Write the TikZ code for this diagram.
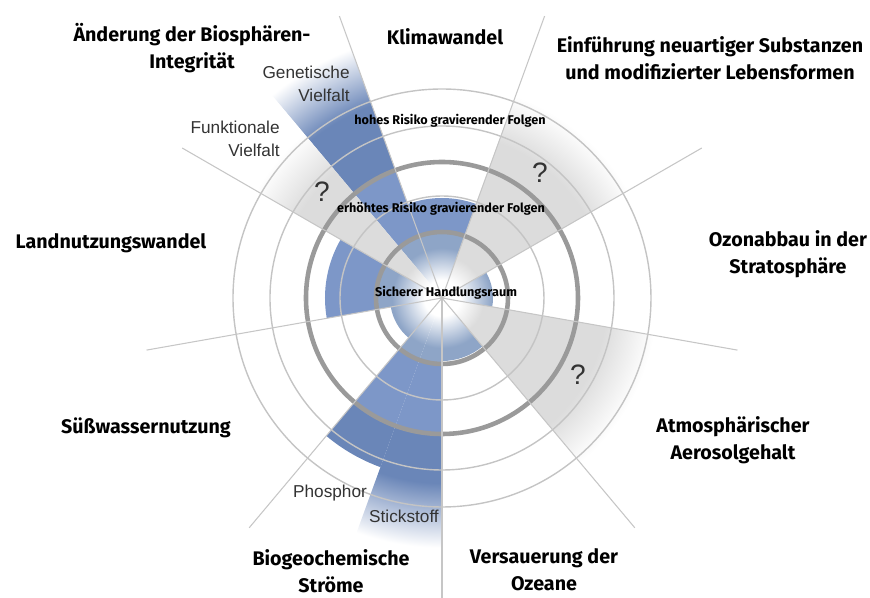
\documentclass[tikz,border=0pt]{standalone}
\usepackage{fontspec}
\setmainfont{Fira Sans}
\newfontfamily\arialfont{Liberation Sans}
\usepackage{xcolor}
\usetikzlibrary{calc}

\definecolor{bluegray}{HTML}{8EA5C7}
\definecolor{bluemid}{HTML}{7D97C8}
\definecolor{bluedark}{HTML}{6A86B8}
\definecolor{graylight}{HTML}{DCDCDC}
\definecolor{ringgray}{HTML}{9A9A9A}
\definecolor{thingray}{HTML}{C4C4C4}

% radial fills, 1bp = 12px
\pgfdeclareradialshading{bluebase}{\pgfpoint{0bp}{0bp}}{color(0bp)=(white); color(1.5bp)=(white); color(4.17bp)=(bluegray); color(5.5bp)=(bluegray); color(5.54bp)=(bluemid); color(11.33bp)=(bluemid); color(11.42bp)=(bluedark); color(50bp)=(bluedark)}
\pgfdeclareradialshading{bluestick}{\pgfpoint{0bp}{0bp}}{color(0bp)=(white); color(1.5bp)=(white); color(4.17bp)=(bluegray); color(5.5bp)=(bluegray); color(5.54bp)=(bluemid); color(11.33bp)=(bluemid); color(11.42bp)=(bluedark); color(15.42bp)=(bluedark); color(20.8bp)=(white); color(50bp)=(white)}
\pgfdeclareradialshading{bluegen}{\pgfpoint{0bp}{0bp}}{color(0bp)=(white); color(1.5bp)=(white); color(4.17bp)=(bluegray); color(5.5bp)=(bluegray); color(5.54bp)=(bluemid); color(11.33bp)=(bluemid); color(11.42bp)=(bluedark); color(17.08bp)=(bluedark); color(22.08bp)=(white); color(50bp)=(white)}
\pgfdeclareradialshading{grayfade}{\pgfpoint{0bp}{0bp}}{color(0bp)=(white); color(1.5bp)=(white); color(3.5bp)=(graylight); color(13.75bp)=(graylight); color(17.92bp)=(white); color(50bp)=(white)}

\tikzset{
  bound/.style={font=\bfseries\fontsize{11.2}{15.3}\selectfont, align=center, inner sep=0pt},
  zone/.style={font=\bfseries\fontsize{7.2}{9}\selectfont, inner sep=0pt},
  sub/.style={font=\arialfont\fontsize{9.8}{13}\selectfont, text=black!80, inner sep=0pt},
  quest/.style={font=\arialfont\fontsize{16}{16}\selectfont, text=black!80, inner sep=0pt},
  thinring/.style={draw=thingray, line width=0.8},
  thickring/.style={draw=ringgray, line width=2.6},
  divider/.style={draw=gray!45, line width=0.6}
}

\begin{document}
\begin{tikzpicture}[x=0.02cm, y=0.02cm]
  \useasboundingbox (-442,-300) rectangle (428,298);

  % blue sectors
  \foreach \a/\b/\r in {70/110/100, -10/30/51, 270/310/63, 230/250/180, 190/230/52, 150/190/117} {
    \begin{scope}
      \clip (0,0) -- (\a:\r) arc[start angle=\a, end angle=\b, radius=\r] -- cycle;
      \shade[shading=bluebase] (0,0) circle (300);
    \end{scope}
  }
  \begin{scope}
    \clip (0,0) -- (250:300) arc[start angle=250, end angle=270, radius=300] -- cycle;
    \shade[shading=bluestick] (0,0) circle (300);
  \end{scope}
  \begin{scope}
    \clip (0,0) -- (110:300) arc[start angle=110, end angle=130, radius=300] -- cycle;
    \shade[shading=bluegen] (0,0) circle (300);
  \end{scope}

  % grey sectors, unknown values
  \foreach \a/\b in {30/70, 310/350, 130/150} {
    \begin{scope}
      \clip (0,0) -- (\a:300) arc[start angle=\a, end angle=\b, radius=300] -- cycle;
      \shade[shading=grayfade] (0,0) circle (300);
    \end{scope}
  }

  % rings
  \foreach \r in {102, 172, 209}
    \draw[thinring] (0,0) circle (\r);
  \foreach \r in {66, 136}
    \draw[thickring] (0,0) circle (\r);

  % dividers
  \foreach \a in {30, 70, 110, 150, 190, 230, 270, 310, 350}
    \draw[divider] (0,0) -- (\a:300);

  % zone labels
  \node[zone] (sicher) at (4,5) {Sicherer Handlungsraum};
  \node[zone] (erhoeht) at (-1,89) {erhöhtes Risiko gravierender Folgen};
  \node[zone] (hoch) at (8,177) {hohes Risiko gravierender Folgen};

  % boundaries
  \node[bound] (klima) at (3,261) {Klimawandel};
  \node[bound] (bio) at (-250,250) {Änderung der Biosphären-\\Integrität};
  \node[bound] (neu) at (268,240) {Einführung neuartiger Substanzen\\und modifizierter Lebensformen};
  \node[bound] (ozon) at (346,44) {Ozonabbau in der\\Stratosphäre};
  \node[bound] (aero) at (291,-142) {Atmosphärischer\\Aerosolgehalt};
  \node[bound] (ozean) at (102,-272) {Versauerung der\\Ozeane};
  \node[bound] (geochem) at (-111,-273) {Biogeochemische\\Ströme};
  \node[bound] (wasser) at (-296,-130) {Süßwassernutzung};
  \node[bound] (land) at (-331,55) {Landnutzungswandel};

  % sub labels
  \node[sub, align=right, anchor=east] (genet) at (-92,214) {Genetische\\Vielfalt};
  \node[sub, align=right, anchor=east] (funkt) at (-162,159) {Funktionale\\Vielfalt};
  \node[sub] (phos) at (-112,-195) {Phosphor};
  \node[sub] (stick) at (-38,-218) {Stickstoff};

  \node[quest] (q1) at (-120,106) {?};
  \node[quest] (q2) at (98,125) {?};
  \node[quest] (q3) at (136,-77) {?};
\end{tikzpicture}
\end{document}
